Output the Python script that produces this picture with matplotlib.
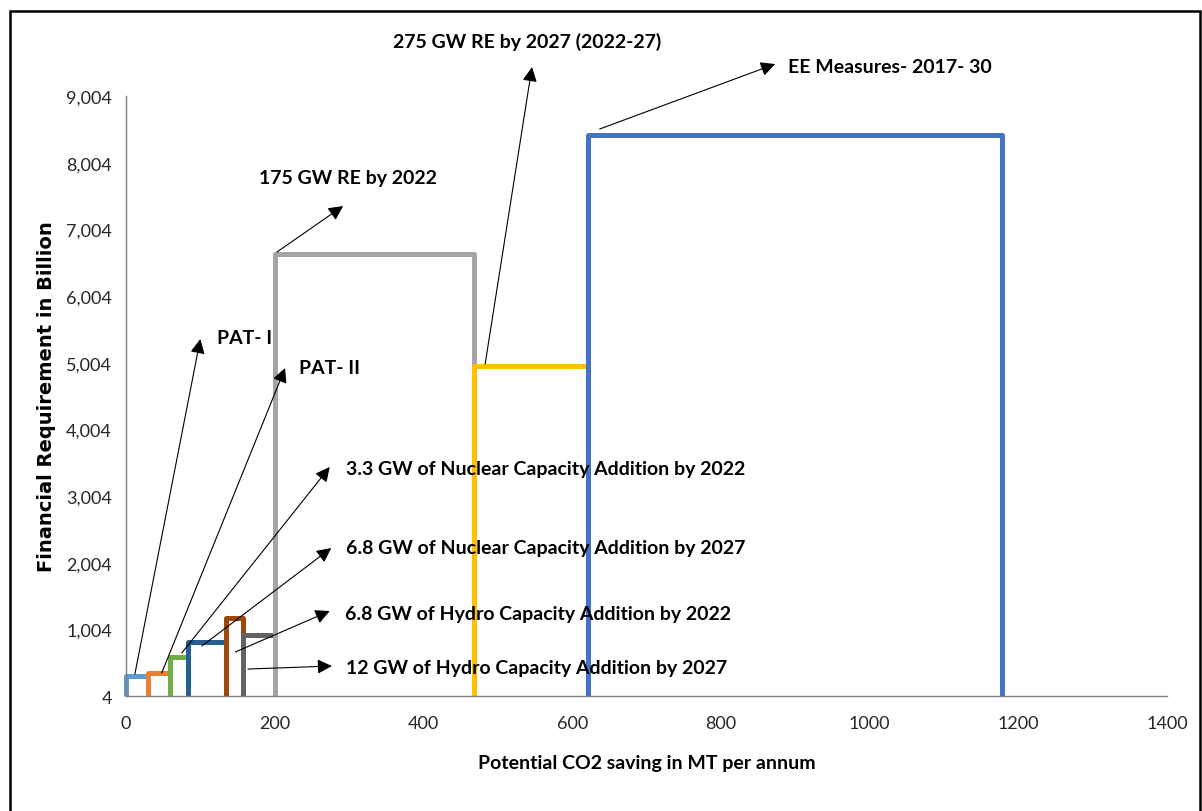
import matplotlib.pyplot as plt
from matplotlib.patches import Rectangle

# CO2 saving blocks: start / end of each block on the x axis and its cost
x_start = [0, 30, 59, 83, 134, 158, 201, 468, 621]
x_end = [30, 59, 83, 134, 158, 201, 468, 621, 1178]
cost = [300, 350, 590, 810, 1170, 920, 6640, 4950, 8420]
base = 4

labels = ["PAT- I", "PAT- II",
          "3.3 GW of Nuclear Capacity Addition by 2022",
          "6.8 GW of Nuclear Capacity Addition by 2027",
          "6.8 GW of Hydro Capacity Addition by 2022",
          "12 GW of Hydro Capacity Addition by 2027",
          "175 GW RE by 2022",
          "275 GW RE by 2027 (2022-27)",
          "EE Measures- 2017- 30"]

x_ticks = [0, 200, 400, 600, 800, 1000, 1200, 1400]
y_ticks = [4, 1004, 2004, 3004, 4004, 5004, 6004, 7004, 8004, 9004]

colors = ["#5B9BD5", "#ED7D31", "#70AD47", "#255E91", "#9E480E",
          "#636363", "#A5A5A5", "#FFC000", "#4472C4"]

# arrow tail, arrow tip, text anchor (data units) and text alignment
arrow_tail = [(12, 334), (48, 349), (75, 649), (102, 754), (147, 664),
              (164, 409), (203, 6664), (483, 4984), (637, 8509)]
arrow_tip = [(100, 5359), (214, 4924), (274, 3439), (276, 2224), (274, 1279),
             (277, 454), (292, 7354), (546, 9439), (873, 9484)]
text_pos = [(122, 5389), (233, 4939), (296, 3424), (296, 2239), (295, 1249),
            (296, 439), (298, 7789), (539, 9829), (890, 9454)]
text_ha = ["left"] * 6 + ["center", "center", "left"]

plt.rcParams['font.family'] = ['Lato', 'DejaVu Sans']

fig = plt.figure(figsize=(12.02, 8.12), dpi=100)
ax = fig.add_axes([0.1048, 0.1416, 0.8661, 0.7389])

for x0, x1, c, col in zip(x_start, x_end, cost, colors):
    ax.plot([x0, x0, x1, x1], [base, c, c, base], color=col, lw=3.6,
            solid_joinstyle='round', solid_capstyle='butt', clip_on=False)

for lab, tail, tip, pos, ha in zip(labels, arrow_tail, arrow_tip, text_pos, text_ha):
    ax.annotate("", xy=tip, xytext=tail, annotation_clip=False,
                arrowprops=dict(arrowstyle='-|>', color='black', lw=0.8,
                                mutation_scale=22, shrinkA=0, shrinkB=0))
    ax.text(pos[0], pos[1], lab, ha=ha, va='center', fontsize=14,
            fontweight='bold', clip_on=False)

ax.set_xlim(0, 1400)
ax.set_ylim(4, 9004)
ax.set_xticks(x_ticks)
ax.set_yticks(y_ticks)
ax.set_yticklabels([f"{v:,}" for v in y_ticks])
ax.tick_params(length=0, labelsize=13, colors='#262626', pad=10)
ax.tick_params(axis='x', pad=14)

for s in ['top', 'right']:
    ax.spines[s].set_visible(False)
for s in ['left', 'bottom']:
    ax.spines[s].set_color('#7f7f7f')
    ax.spines[s].set_linewidth(1.0)

ax.set_xlabel("Potential CO2 saving in MT per annum", fontsize=14,
              fontweight='bold', labelpad=16)
ax.set_ylabel("Financial Requirement in Billion", fontsize=14,
              fontweight='bold', labelpad=7, family=['DejaVu Sans'])

# frame around the whole chart
fig.patches.append(Rectangle((10 / 1202, -0.01), 1190 / 1202, 1 - 12 / 812 + 0.01,
                             transform=fig.transFigure, fill=False,
                             edgecolor='black', lw=1.8))

fig.savefig("out.png", dpi=100)
